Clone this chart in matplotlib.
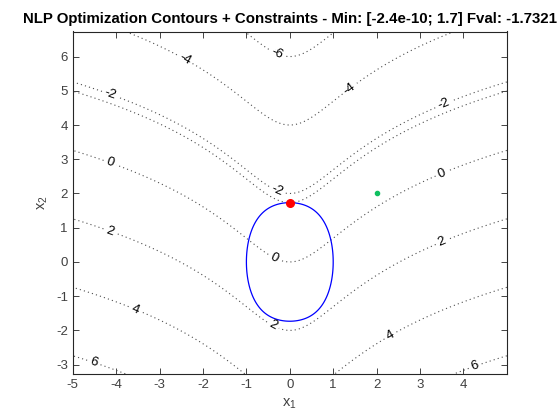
import numpy as np
import matplotlib
matplotlib.use("Agg")
import matplotlib.pyplot as plt

plt.rcParams['font.family'] = ['Liberation Sans', 'DejaVu Sans']
plt.rcParams['mathtext.fontset'] = 'custom'
plt.rcParams['mathtext.rm'] = 'Liberation Sans'
plt.rcParams['mathtext.it'] = 'Liberation Sans'
plt.rcParams['axes.unicode_minus'] = False

# problem: min log(1+x1^2) - x2  s.t. (1+x1^2)^2 + x2^2 = 4
x_opt = [-2.4e-10, np.sqrt(3)]
fval = -1.7321
x0 = [2.0, 2.0]
levels = [-6, -4, -2, 0, 2, 4, 6]

# where MATLAB put the contour labels
lab_x = [-0.30, -2.44, 1.37, -4.14, -0.29, 3.53, -4.14, -0.36, 3.50,
         -4.14, -0.39, 3.50, -3.57, 2.31, -4.53, 4.27]
lab_y = [6.10, 5.88, 5.08, 4.87, 2.10, 4.64, 2.92, 0.13, 2.59,
         0.93, -1.85, 0.60, -1.38, -2.14, -2.96, -3.05]

xlim = (x_opt[0] - 5, x_opt[0] + 5)
ylim = (x_opt[1] - 5, x_opt[1] + 5)

gx = np.linspace(xlim[0], xlim[1], 400)
gy = np.linspace(ylim[0], ylim[1], 400)
X, Y = np.meshgrid(gx, gy)
F = np.log(1 + X**2) - Y
C = (1 + X**2)**2 + Y**2 - 4

fig = plt.figure(figsize=(5.6, 4.2), dpi=100)
ax = fig.add_axes([0.13, 0.11, 0.775, 0.815])

dot = (0, (1, 2.8))
cs = ax.contour(X, Y, F, levels=levels, colors='0.3', linestyles=[dot], linewidths=0.8)
ax.clabel(cs, fmt='%g', fontsize=9.5, colors='k', inline=True, inline_spacing=3,
          manual=list(zip(lab_x, lab_y)))
ax.contour(X, Y, F, levels=[fval], colors='0.3', linestyles=[dot], linewidths=0.8)
ax.contour(X, Y, C, levels=[0], colors='#0000ff', linewidths=0.9)

ax.plot(x0[0], x0[1], 'o', color='#10c060', markersize=3)
ax.plot(x_opt[0], x_opt[1], 'o', color='#ff0000', markersize=5.5)

ax.set_xlim(xlim)
ax.set_ylim(ylim)
ax.set_xticks(range(-5, 5))
ax.set_yticks(range(-3, 7))
ax.tick_params(direction='in', top=True, right=True, labelsize=9.5, length=4, width=0.6,
               colors='0.15', labelcolor='0.25')
for s in ax.spines.values():
    s.set_linewidth(0.8)
    s.set_color('0.15')

ax.set_xlabel(r'x$_1$', fontsize=10.5, color='0.25')
ax.set_ylabel(r'x$_2$', fontsize=10.5, color='0.25')
ax.set_title('NLP Optimization Contours + Constraints - Min: [-2.4e-10; 1.7] Fval: -1.7321',
             fontsize=10.8, fontweight='bold', pad=6)

fig.savefig('out.png', dpi=100)
